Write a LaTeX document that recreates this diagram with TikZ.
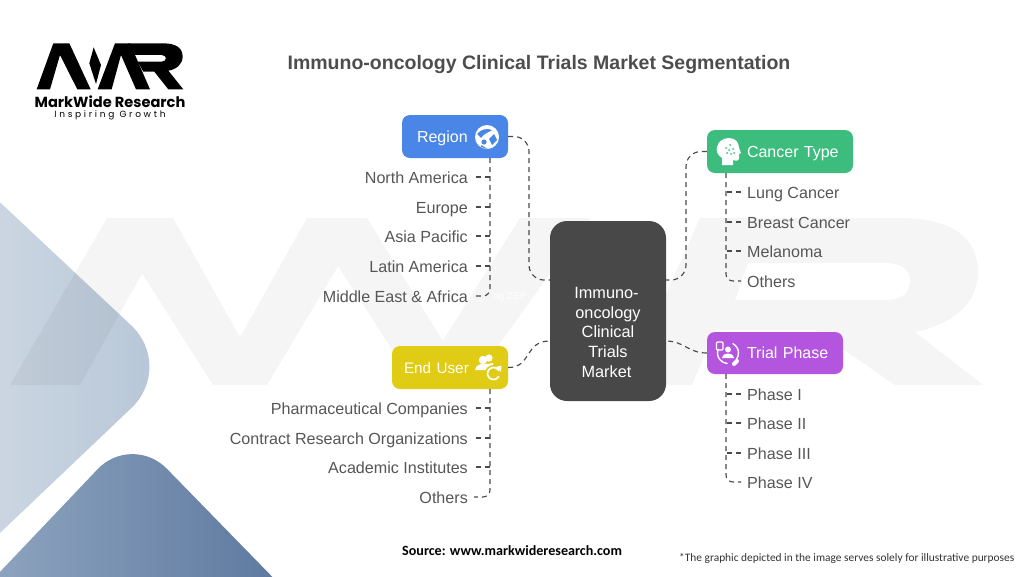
\documentclass[tikz,border=0pt]{standalone}
\usepackage{fontspec}
\setmainfont{Liberation Sans}
\newfontfamily\logofont{Poppins}
\newfontfamily\notefont{Carlito}
\usetikzlibrary{calc}
\definecolor{txt}{HTML}{565656}
\definecolor{ttl}{HTML}{4D4D4D}
\definecolor{dash}{HTML}{4A4A4A}
\definecolor{hubc}{HTML}{484848}
\definecolor{rb}{HTML}{4A86E8}
\definecolor{cg}{HTML}{3DBD7D}
\definecolor{ey}{HTML}{E0CB15}
\definecolor{tp}{HTML}{B455E0}
\definecolor{lA}{HTML}{D2DBE5}
\definecolor{lB}{HTML}{B5C5D6}
\definecolor{bA}{HTML}{96ABC5}
\definecolor{bB}{HTML}{56729A}
\newcommand\hl[1]{#1\hspace*{3pt}}
\tikzset{
  lab/.style={inner sep=0pt,text=txt,font=\fontsize{16.1}{19}\selectfont,text height=12.4pt,text depth=0pt},
  labR/.style={lab,anchor=east},
  labL/.style={lab,anchor=west},
  catbox/.style={rounded corners=8pt,inner xsep=0pt,inner ysep=0pt,text=white,align=left,
     font=\fontsize{16}{19}\selectfont,minimum height=43pt,text height=11.5pt,text depth=0pt},
  conn/.style={draw=dash,line width=1.15pt,dash pattern=on 5pt off 4pt},
  hubbox/.style={fill=hubc,rounded corners=17pt,text=white,align=center,minimum width=116pt,minimum height=180pt,
     inner sep=0pt,font=\fontsize{16.3}{19.6}\selectfont},
  iconline/.style={draw=white,line width=1.7pt,line cap=round},
}
\begin{document}
\begin{tikzpicture}[x=1pt,y=-1pt]
\useasboundingbox (0,0) rectangle (1024,576);
\fill[white] (0,0) rectangle (1024,576);
% corner shapes
\shade[left color=lA,right color=lB,rounded corners=60pt]
  (-60,146) -- (175,366.5) -- (-60,590) -- cycle;
\shade[left color=bA,right color=bB,rounded corners=50pt]
  (-60,635) -- (132,433) -- (330,636) -- cycle;
% watermark
\fill[black,opacity=.04]
  (10,385) -- (107,218) -- (173,218) -- (80,385) -- cycle
  (107,218) -- (173,218) -- (267,385) -- (213,385) -- cycle
  (213,385) -- (307,218) -- (367,218) -- (267,385) -- cycle
  (307,218) -- (367,218) -- (470,385) -- (415,385) -- cycle
  (415,385) -- (520,218) -- (590,218) -- (470,385) -- cycle;
\fill[black,opacity=.04,even odd rule]
  (625,385) -- (700,218) -- (900,218) .. controls (955,218) and (978,240) .. (978,272)
  .. controls (978,305) and (950,325) .. (915,332) -- (983,385) -- (895,385) -- (815,330) -- (715,330) -- (692,385) -- cycle
  (748,263) -- (735,300) -- (885,300) .. controls (903,300) and (910,292) .. (910,281) .. controls (910,270) and (903,263) .. (885,263) -- cycle;
% logo
\begin{scope}[shift={(0,20)},x=.3333pt,y=-.3333pt]
\fill[black] (110,208) -- (160,70) -- (208,70) -- (272,208) -- (232,208) -- (180,105) -- (150,208) -- cycle;
\fill[black] (281,82) -- (303,135) -- (288,192) -- (268,130) -- cycle;
\fill[black] (293,208) -- (345,70) -- (390,70) -- (450,208) -- (408,208) -- (363,105) -- (335,208) -- cycle;
\fill[black] (385,70) -- (490,70) .. controls (530,70) and (548,85) .. (548,110) .. controls (548,132) and (530,148) .. (505,152)
  -- (550,208) -- (505,208) -- (463,155) -- (430,155) -- (413,125) -- (485,125) .. controls (502,125) and (502,105) .. (485,105) -- (405,105) -- cycle;
\end{scope}
\node[inner sep=0pt,font=\logofont\bfseries\fontsize{14.6}{15}\selectfont] (logoA) at (110,101.5) {MarkWide Research};
\node[inner sep=0pt,font=\logofont\fontsize{9}{10}\selectfont] (logoB) at (110,115.5) {\addfontfeature{LetterSpace=30}Inspiring Growth};
% title
\node[inner sep=0pt,text=ttl,font=\bfseries\fontsize{19.5}{24}\selectfont] (title) at (539,64) {Immuno-oncology Clinical Trials Market Segmentation};
% boxes
\node[hubbox] (hub) at (608,311) {\rule{0pt}{54pt}\hl{Immuno-}\\\hl{oncology}\\\hl{Clinical}\\\hl{Trials}\\\hl{Market}};
\node[catbox,fill=rb,text width=106pt] (region) at (455,136.5) {\hspace*{15pt}Region};
\node[catbox,fill=ey,text width=116pt] (enduser) at (450,367.5) {\hspace*{12pt}\fontsize{15.3}{19}\selectfont End User};
\node[catbox,fill=cg,text width=146pt] (cancer) at (780,151.5) {\hspace*{40pt}Cancer Type};
\node[catbox,fill=tp,text width=136pt,minimum height=42pt] (trial) at (775,353) {\hspace*{40pt}Trial Phase};
% icons: region globe
\fill[white] (487,137) circle (12);
\fill[rb] (477,134) .. controls (481,129) and (487,128) .. (492,130) .. controls (488,133) and (484,133) .. (481,138) -- cycle;
\fill[rb] (484,142) circle (2.6);
\fill[rb] (494,134) -- (497,140) -- (492,145) -- (489,139) -- cycle;
\fill[rb] (481,147) -- (488,149) -- (481,145) -- cycle;
% icons: head
\fill[white] (722,165) -- (722,158) .. controls (717,155) and (716,150) .. (717,147) .. controls (718,141) and (724,138) .. (729,138)
  .. controls (736,138) and (739,143) .. (739,148) -- (741,153) -- (739,154) -- (739,158) .. controls (739,161) and (736,161) .. (733,160) -- (733,165) -- cycle;
\foreach \p in {(730,145),(733,149),(729,150),(726,148),(731,154),(727,153),(734,153)} \fill[cg] \p circle (1);
% icons: people
\fill[white] (489,358) circle (3.6);
\fill[white] (483,360) circle (4.2);
\fill[white] (475,370) .. controls (476,365) and (480,364) .. (483,364) .. controls (487,364) and (489,364) .. (493,363) -- (493,370) -- cycle;
\fill[ey] (493.5,373.5) circle (8.6);
\draw[iconline] (498.7,370.5) arc (-30:-330:6);
\fill[white] (496,367) -- (501.5,365.5) -- (501,372) -- cycle;
% icons: trial
\draw[draw=white,line width=1.1pt,rounded corners=1pt] (716.5,342) rectangle (723,350);
\draw[iconline,line width=1.4pt] (728,353) ++(-62:10.5) arc (-62:38:10.5);
\draw[iconline,line width=1.4pt] (728,353) ++(-160:10.5) arc (-160:-265:10.5);
\fill[white] (728,349.5) circle (3);
\fill[white] (722,358) .. controls (723,354) and (726,353.5) .. (728,353.5) .. controls (730,353.5) and (733,354) .. (734,358) -- cycle;
\draw[draw=white,line width=4pt,line cap=round] (734,364) -- (737,361);
% faint text
\node[inner sep=0pt,text=white,font=\fontsize{10}{12}\selectfont] (faint) at (510,297) {ng ZEP};
% labels left
\node[labR] (r1) at (468,177) {North America};
\node[labR] (r2) at (468,207) {Europe};
\node[labR] (r3) at (468,236) {Asia Pacific};
\node[labR] (r4) at (468,266) {Latin America};
\node[labR] (r5) at (468,296) {Middle East \& Africa};
\node[labR] (e1) at (468,408) {Pharmaceutical Companies};
\node[labR] (e2) at (468,438) {Contract Research Organizations};
\node[labR] (e3) at (468,467) {Academic Institutes};
\node[labR] (e4) at (468,497) {Others};
\node[labL] (c1) at (747,192) {Lung Cancer};
\node[labL] (c2) at (747,222) {Breast Cancer};
\node[labL] (c3) at (747,251) {Melanoma};
\node[labL] (c4) at (747,281) {Others};
\node[labL] (t1) at (747,394) {Phase I};
\node[labL] (t2) at (747,423) {Phase II};
\node[labL] (t3) at (747,453) {Phase III};
\node[labL] (t4) at (747,482) {Phase IV};
% coordinates
\coordinate (hubNW) at (550,280);
\coordinate (hubNE) at (666,280);
\coordinate (hubSW) at (550,341);
\coordinate (hubSE) at (666,341);
\coordinate (rT) at (490,158);
\coordinate (eT) at (490,389);
\coordinate (cT) at (726,173);
\coordinate (tT) at (726,374);
% main connectors
\draw[conn,rounded corners=15pt] (region.east) -- (529,136.5) -- (529,280) -- (hubNW);
\draw[conn,rounded corners=15pt] (cancer.west) -- (686,151.5) -- (686,280) -- (hubNE);
\draw[conn] (enduser.east) .. controls (532,367.5) and (524,341) .. (hubSW);
\draw[conn] (trial.west) .. controls (688,353) and (684,341) .. (hubSE);
% trunks
\draw[conn,rounded corners=7pt] (rT) -- (r5.east -| rT) -- ([xshift=6pt]r5.east);
\draw[conn,rounded corners=7pt] (eT) -- (e4.east -| eT) -- ([xshift=6pt]e4.east);
\draw[conn,rounded corners=7pt] (cT) -- (c4.west -| cT) -- ([xshift=-6pt]c4.west);
\draw[conn,rounded corners=7pt] (tT) -- (t4.west -| tT) -- ([xshift=-6pt]t4.west);
\foreach \n in {r1,r2,r3,r4} \draw[conn] ([xshift=8pt]\n.east) -- (\n.east -| rT);
\foreach \n in {e1,e2,e3} \draw[conn] ([xshift=8pt]\n.east) -- (\n.east -| eT);
\foreach \n in {c1,c2,c3} \draw[conn] ([xshift=-6pt]\n.west) -- (\n.west -| cT);
\foreach \n in {t1,t2,t3} \draw[conn] ([xshift=-6pt]\n.west) -- (\n.west -| tT);
% footer
\node[inner sep=0pt,anchor=west,font=\notefont\bfseries\fontsize{14.1}{17}\selectfont] (src) at (402,551) {Source: www.markwideresearch.com};
\node[inner sep=0pt,anchor=west,text=black!80,font=\notefont\fontsize{11.4}{14}\selectfont] (note) at (679,558) {*The graphic depicted in the image serves solely for illustrative purposes};
\end{tikzpicture}
\end{document}
